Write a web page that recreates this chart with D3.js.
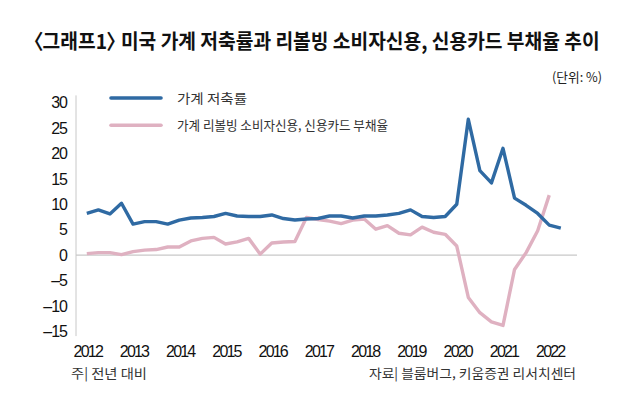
<!DOCTYPE html>
<html><head><meta charset="utf-8">
<script src="https://cdn.jsdelivr.net/npm/d3@7"></script>
<style>
body{margin:0;background:#fff;}
svg{display:block;}
.kr{font-family:"Noto Sans CJK KR","Noto Sans",sans-serif;}
.palt{font-feature-settings:"palt" 1;}
.num{font-family:"Liberation Sans",Arial,sans-serif;}
</style></head>
<body>
<svg id="c" width="619" height="402"></svg>
<script>
// Quarterly data, 2012 Q1 .. 2022 Q2
const startYear = 2012;
const savingRate = [8.2,8.9,8.1,10.2,6.1,6.6,6.6,6.1,6.9,7.3,7.4,7.6,8.2,7.7,7.6,7.6,
  7.9,7.2,6.9,7.1,7.2,7.7,7.7,7.3,7.7,7.7,7.9,8.2,8.9,7.6,7.4,7.6,
  10.0,26.7,16.6,14.2,21.0,11.2,9.8,8.2,5.9,5.3];
const revolvingRate = [0.3,0.5,0.5,0.1,0.7,1.0,1.1,1.6,1.6,2.8,3.3,3.5,2.2,2.6,3.3,0.2,
  2.4,2.6,2.7,7.4,7.0,6.7,6.2,6.9,7.1,5.1,5.8,4.3,4.0,5.5,4.5,4.1,
  1.8,-8.3,-11.3,-13.1,-13.8,-2.8,0.5,4.8,11.8];
const yTicks = [30,25,20,15,10,5,0,-5,-10,-15];
const xTicks = [2012,2013,2014,2015,2016,2017,2018,2019,2020,2021,2022];
const seriesNames = ["가계 저축률","가계 리볼빙 소비자신용, 신용카드 부채율"];
const colors = ["#2f6aa3","#dfb1c1"];
const title = "〈그래프1〉 미국 가계 저축률과 리볼빙 소비자신용, 신용카드 부채율 추이";
const unitText = "(단위: %)";
const noteText = "주| 전년 대비";
const sourceText = "자료| 블룸버그, 키움증권 리서치센터";

const svg = d3.select("#c");
const x = d3.scaleLinear().domain([2012, 2022.25]).range([86.8, 560.8]);
const y = d3.scaleLinear().domain([-15, 30]).range([331.5, 102.5]);
const axisX = 76;

// fit a text horizontally into a given width by scaling
function fitText(sel, x0, width, anchor){
  const w = sel.node().getComputedTextLength();
  const k = Math.min(1, width / w);
  sel.attr("x", 0).attr("transform", `translate(${x0},0) scale(${k},1)`);
  if (anchor) sel.attr("text-anchor", anchor);
}

// title
const t = svg.append("text").attr("class","kr palt").attr("y",49)
  .attr("font-size",20.5).attr("font-weight",700).attr("fill","#111").text(title);
fitText(t, 33, 567);

svg.append("text").attr("class","kr").attr("x",602).attr("y",82)
  .attr("text-anchor","end").attr("font-size",13).attr("fill","#222")
  .attr("textLength",50).attr("lengthAdjust","spacingAndGlyphs").text(unitText);

// axis line
svg.append("line").attr("x1",axisX).attr("x2",axisX)
  .attr("y1",y(31.4)).attr("y2",y(-15.9)).attr("stroke","#c8c8c8").attr("stroke-width",1);
// zero line
svg.append("line").attr("x1",axisX).attr("x2",x(2022.6))
  .attr("y1",y(0)).attr("y2",y(0)).attr("stroke","#c8c8c8").attr("stroke-width",1.2);

// y tick labels
svg.append("g").selectAll("text").data(yTicks).join("text")
  .attr("class","num").attr("x",67).attr("y",d=>y(d)).attr("dy","0.36em")
  .attr("text-anchor","end").attr("font-size",16).attr("letter-spacing","-1px")
  .attr("fill","#111").text(d=> d<0 ? "–"+Math.abs(d) : d);

// x tick labels
svg.append("g").selectAll("text").data(xTicks).join("text")
  .attr("class","num").attr("x",d=>x(d)+1).attr("y",357)
  .attr("text-anchor","middle").attr("font-size",16).attr("letter-spacing","-1.8px")
  .attr("fill","#111").text(d=>d);

const line = d3.line().x((d,i)=>x(startYear + i/4)).y(d=>y(d));
[revolvingRate, savingRate].forEach((s,k)=>{
  const ci = k===0 ? 1 : 0;
  svg.append("path").datum(s).attr("d",line).attr("fill","none")
    .attr("stroke",colors[ci]).attr("stroke-width",3.4)
    .attr("stroke-linejoin","round").attr("stroke-linecap","butt");
});

// legend
const legY = [98,125.3];
const legW = [70,211];
seriesNames.forEach((n,i)=>{
  svg.append("line").attr("x1",111).attr("x2",161).attr("y1",legY[i]).attr("y2",legY[i])
    .attr("stroke",colors[i]).attr("stroke-width",3.6).attr("stroke-linecap","round");
  svg.append("text").attr("class","kr").attr("x",177).attr("y",legY[i]+4.6)
    .attr("font-size",13).attr("fill","#333")
    .attr("textLength",legW[i]).attr("lengthAdjust","spacingAndGlyphs").text(n);
});

// footer
svg.append("text").attr("class","kr").attr("x",71).attr("y",377.5)
  .attr("font-size",13).attr("fill","#333")
  .attr("textLength",76).attr("lengthAdjust","spacingAndGlyphs").text(noteText);
svg.append("text").attr("class","kr").attr("x",576).attr("y",377.5)
  .attr("text-anchor","end").attr("font-size",13).attr("fill","#333")
  .attr("textLength",207).attr("lengthAdjust","spacingAndGlyphs").text(sourceText);
</script>
</body></html>
